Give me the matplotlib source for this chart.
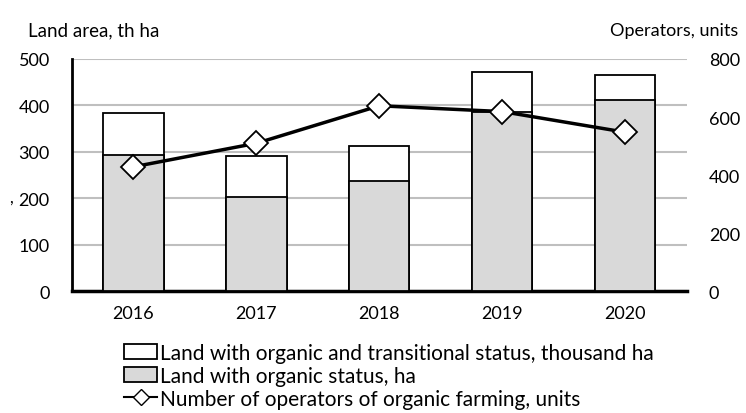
import matplotlib
matplotlib.use('Agg')
import matplotlib.pyplot as plt
from matplotlib.patches import Patch
from matplotlib.lines import Line2D

years = ['2016', '2017', '2018', '2019', '2020']
land_total = [384, 291, 312, 471, 466]      # organic + transitional, th ha
land_organic = [294, 204, 237, 385, 412]    # organic status
operators = [429, 510, 639, 619, 548]       # units

plt.rcParams['font.family'] = ['Lato', 'DejaVu Sans']

fig = plt.figure(figsize=(7.46, 4.14), dpi=100)
ax = fig.add_axes([0.0965, 0.2935, 0.824, 0.5616])
x = range(len(years))

ax.set_axisbelow(True)
ax.grid(axis='y', color='#bfbfbf', linewidth=1.5)
ax.bar(x, land_total, width=0.49, color='white', edgecolor='black', linewidth=1.3, zorder=2)
ax.bar(x, land_organic, width=0.49, color='#d9d9d9', edgecolor='black', linewidth=1.3, zorder=3)

ax.set_ylim(0, 500)
ax.set_yticks([0, 100, 200, 300, 400, 500])
ax.set_xlim(-0.5, 4.5)
ax.set_xticks(list(x))
ax.set_xticklabels(years)
ax.tick_params(axis='both', length=0, labelsize=13, pad=10)
ax.tick_params(axis='y', pad=16)

ax2 = ax.twinx()
ax2.plot(list(x), operators, color='black', linewidth=2.5, marker='D', markersize=12,
         markerfacecolor='white', markeredgecolor='black', markeredgewidth=1.3, zorder=5)
ax2.set_ylim(0, 800)
ax2.set_yticks([0, 200, 400, 600, 800])
ax2.tick_params(axis='y', length=0, labelsize=13, pad=16)
ax2.set_frame_on(False)
for s in ['top', 'right']:
    ax.spines[s].set_visible(False)
ax.spines['left'].set_linewidth(2)
ax.spines['bottom'].set_linewidth(2.5)

fig.text(0.038, 0.912, 'Land area, th ha', fontsize=13.5)
fig.text(0.818, 0.912, 'Operators, units', fontsize=13)
fig.text(0.012, 0.51, ',', fontsize=12)

handles = [
    Patch(facecolor='white', edgecolor='black', linewidth=1.3),
    Patch(facecolor='#d9d9d9', edgecolor='black', linewidth=1.3),
    Line2D([], [], color='black', linewidth=1.5, marker='D', markersize=8,
           markerfacecolor='white', markeredgecolor='black'),
]
labels = [
    'Land with organic and transitional status, thousand ha',
    'Land with organic status, ha',
    'Number of operators of organic farming, units',
]
fig.legend(handles, labels, loc='upper left', bbox_to_anchor=(0.166, 0.17),
           frameon=False, fontsize=15, handlelength=1.6, handleheight=0.75,
           handletextpad=0.15, labelspacing=0.15, borderaxespad=0, borderpad=0)

fig.savefig('out.png', dpi=100)
